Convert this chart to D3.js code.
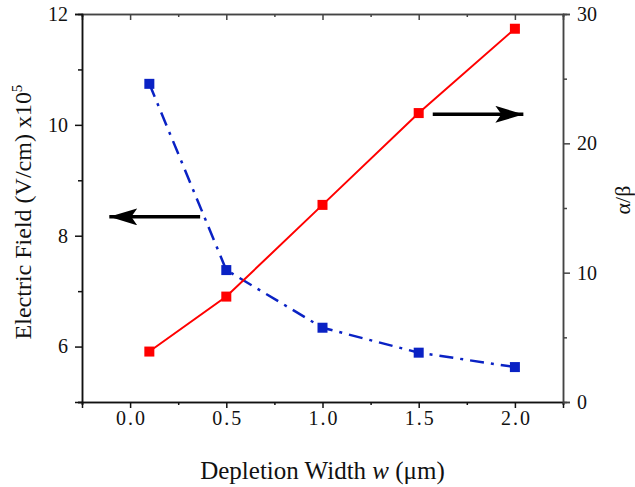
<!DOCTYPE html>
<html>
<head>
<meta charset="utf-8">
<script src="https://cdn.jsdelivr.net/npm/d3@7"></script>
<style>
  body { margin: 0; background: #fff; }
  svg { display: block; font-family: "Liberation Serif", "Times New Roman", serif; }
</style>
</head>
<body>
<div id="chart-area"></div>
<script>
// depletion widths (um)
const widths = [0.1, 0.5, 1.0, 1.5, 2.0];
// electric field x10^5 V/cm (left axis)
const field = [10.74, 7.38, 6.34, 5.89, 5.63];
// alpha/beta ratio (right axis)
const ratio = [3.9, 8.15, 15.24, 22.34, 28.86];

const xTicks = [0.0, 0.5, 1.0, 1.5, 2.0];
const yLeftTicks = [6, 8, 10, 12];
const yRightTicks = [0, 10, 20, 30];

// arrows: [x start, x end, y on left axis]
const arrowLeft = [0.364, -0.108, 8.34];
const arrowRight = [1.573, 2.044, 10.19];

const W = 635, H = 487;
const margin = { left: 82, top: 14, right: 72, bottom: 85 };
const width = W - margin.left - margin.right;
const height = H - margin.top - margin.bottom;

const red = '#ff0000';
const blue = '#0a22c4';

const svg = d3.select('#chart-area').append('svg')
    .attr('width', W)
    .attr('height', H);

const g = svg.append('g')
    .attr('transform', `translate(${margin.left}, ${margin.top})`);

const x = d3.scaleLinear().domain([-0.25, 2.25]).range([0, width]);
const yL = d3.scaleLinear().domain([5, 12]).range([height, 0]);
const yR = d3.scaleLinear().domain([0, 30]).range([height, 0]);

// minor ticks first, majors on top
function axisPair(axisFn, scale, majors, minors, majLen, minLen, pad, fmt, tf, color) {
    const gm = g.append('g').attr('transform', tf)
        .call(axisFn(scale).tickValues(minors).tickSize(minLen).tickFormat(''));
    const gM = g.append('g').attr('transform', tf)
        .call(axisFn(scale).tickValues(majors).tickSize(majLen).tickPadding(pad).tickFormat(fmt));
    [gm, gM].forEach(a => {
        a.select('.domain').attr('stroke', color).attr('stroke-width', 1.5);
        a.selectAll('line').attr('stroke', color).attr('stroke-width', 1.5);
        a.selectAll('text').attr('fill', '#111').attr('font-size', '20px')
            .attr('font-family', '"Liberation Serif", serif');
    });
    return gM;
}

const xMinor = [-0.25, 0.25, 0.75, 1.25, 1.75, 2.25];
const gx = axisPair(d3.axisBottom, x, xTicks, xMinor, 6, 3, 3, d3.format('.1f'), `translate(0, ${height})`, '#111');
gx.selectAll('text').attr('letter-spacing', '2px').attr('dx', '1px');
axisPair(d3.axisTop, x, xTicks, xMinor, -6, -3, 3, '', 'translate(0, 0)', '#444');
axisPair(d3.axisLeft, yL, yLeftTicks, [5, 7, 9, 11], 7, 4, 7, d3.format('d'), 'translate(0, 0)', '#111');
axisPair(d3.axisRight, yR, yRightTicks, [5, 15, 25], 7, 4, 7, d3.format('d'), `translate(${width}, 0)`, '#444');

// axis titles
g.append('text')
    .attr('x', width / 2)
    .attr('y', height + 77)
    .attr('text-anchor', 'middle')
    .attr('font-size', '25px')
    .attr('fill', '#111')
    .html('Depletion Width <tspan font-style="italic">w</tspan> (μm)');

g.append('text')
    .attr('transform', `translate(${-51}, ${height / 2 + 4}) rotate(-90)`)
    .attr('text-anchor', 'middle')
    .attr('font-size', '24px')
    .attr('fill', '#111')
    .html('Electric Field (V/cm) x10<tspan dy="-9" font-size="15px">5</tspan>');

g.append('text')
    .attr('transform', `translate(${width + 67}, ${height / 2 - 8}) rotate(-90)`)
    .attr('text-anchor', 'middle')
    .attr('font-size', '22px')
    .attr('fill', '#111')
    .text('α/β');

// arrow head marker
svg.append('defs').append('marker')
    .attr('id', 'head')
    .attr('viewBox', '0 0 28 17')
    .attr('refX', 28).attr('refY', 8.5)
    .attr('markerWidth', 28).attr('markerHeight', 17)
    .attr('markerUnits', 'userSpaceOnUse')
    .attr('orient', 'auto')
    .append('path')
    .attr('d', 'M0,0 L28,8.5 L0,17 L6,8.5 Z')
    .attr('fill', '#000');

[arrowLeft, arrowRight].forEach(a => {
    g.append('line')
        .attr('x1', x(a[0])).attr('x2', x(a[1]))
        .attr('y1', yL(a[2])).attr('y2', yL(a[2]))
        .attr('stroke', '#000')
        .attr('stroke-width', 3.5)
        .attr('marker-end', 'url(#head)');
});

// blue series, left axis
g.append('path')
    .datum(widths.map((w, i) => [w, field[i]]))
    .attr('fill', 'none')
    .attr('stroke', blue)
    .attr('stroke-width', 2.5)
    .attr('stroke-dasharray', '14,7,3,7')
    .attr('d', d3.line().x(d => x(d[0])).y(d => yL(d[1])));

// red series, right axis
g.append('path')
    .datum(widths.map((w, i) => [w, ratio[i]]))
    .attr('fill', 'none')
    .attr('stroke', red)
    .attr('stroke-width', 2)
    .attr('d', d3.line().x(d => x(d[0])).y(d => yR(d[1])));

const sz = 10;
g.selectAll('rect.blue')
    .data(widths.map((w, i) => [w, field[i]]))
    .enter().append('rect')
    .attr('class', 'blue')
    .attr('x', d => x(d[0]) - sz / 2)
    .attr('y', d => yL(d[1]) - sz / 2)
    .attr('width', sz).attr('height', sz)
    .attr('fill', blue);

g.selectAll('rect.red')
    .data(widths.map((w, i) => [w, ratio[i]]))
    .enter().append('rect')
    .attr('class', 'red')
    .attr('x', d => x(d[0]) - sz / 2)
    .attr('y', d => yR(d[1]) - sz / 2)
    .attr('width', sz).attr('height', sz)
    .attr('fill', red);
</script>
</body>
</html>
